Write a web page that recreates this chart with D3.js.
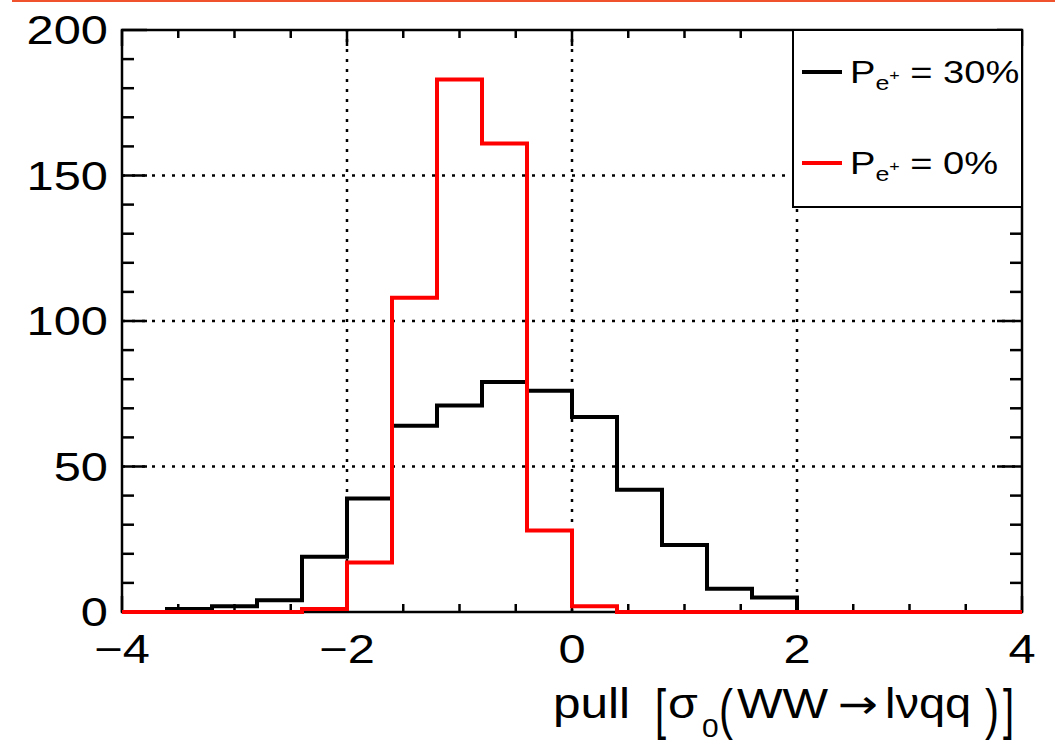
<!DOCTYPE html>
<html>
<head>
<meta charset="utf-8">
<script src="https://cdn.jsdelivr.net/npm/d3@7"></script>
<style>
  html, body { margin: 0; padding: 0; background: #fff; }
  svg { display: block; }
  text { font-family: "Liberation Sans", Arial, Helvetica, sans-serif; fill: #000; }
</style>
</head>
<body>
<svg id="chart" width="1055" height="742"></svg>
<script>
// ---- data ----
const binEdges = [-4.0, -3.6, -3.2, -2.8, -2.4, -2.0, -1.6, -1.2, -0.8, -0.4, 0.0,
                  0.4, 0.8, 1.2, 1.6, 2.0, 2.4, 2.8, 3.2, 3.6, 4.0];
const pol30 = [0, 1, 2, 4, 19, 39, 64, 71, 79, 76, 67, 42, 23, 8, 5, 0, 0, 0, 0, 0];
const pol0  = [0, 0, 0, 0, 1, 17, 108, 183, 161, 28, 2, 0, 0, 0, 0, 0, 0, 0, 0, 0];
const xTickLabels = [-4, -2, 0, 2, 4];
const yTickLabels = [0, 50, 100, 150, 200];
const seriesNames = ["30%", "0%"];

// ---- layout ----
const svg = d3.select("#chart");
const L = 122, R = 1022, T = 30, B = 612;
const SX = 1.22; // horizontal text stretch
const FS = 40;

const x = d3.scaleLinear().domain([-4, 4]).range([L, R]);
const y = d3.scaleLinear().domain([0, 200]).range([B, T]);

// top orange rule
svg.append("line").attr("x1", 12).attr("x2", 1055).attr("y1", 1).attr("y2", 1)
  .attr("stroke", "#f0522d").attr("stroke-width", 2);

// grid
const grid = svg.append("g").attr("stroke", "#000").attr("stroke-width", 2.5)
  .attr("stroke-dasharray", "3,7");
xTickLabels.filter(v => v > -4 && v < 4).forEach(v => {
  grid.append("line").attr("x1", x(v)).attr("x2", x(v)).attr("y1", B).attr("y2", T);
});
yTickLabels.filter(v => v > 0 && v < 200).forEach(v => {
  grid.append("line").attr("x1", L).attr("x2", R).attr("y1", y(v)).attr("y2", y(v));
});

function stretchedText(g, tx, ty, str, anchor, size, sx, sy) {
  return g.append("text")
    .attr("transform", `translate(${tx},${ty}) scale(${sx || SX},${sy || 1})`)
    .attr("text-anchor", anchor)
    .attr("font-size", size || FS)
    .text(str);
}

// axes (ROOT style: inward ticks, both sides)
const ax = svg.append("g");
const yMinor = d3.range(0, 201, 10);
const xMinor = d3.range(-4, 4.001, 0.5);
const tk = ax.append("g").attr("stroke", "#000").attr("stroke-width", 2.5);
yMinor.forEach(v => {
  const len = (v % 50 === 0) ? 25 : 12;
  tk.append("line").attr("x1", L).attr("x2", L + len).attr("y1", y(v)).attr("y2", y(v));
  tk.append("line").attr("x1", R).attr("x2", R - len).attr("y1", y(v)).attr("y2", y(v));
});
xMinor.forEach(v => {
  const major = Math.abs(v / 2 - Math.round(v / 2)) < 1e-6;
  const len = major ? 16 : 8;
  tk.append("line").attr("x1", x(v)).attr("x2", x(v)).attr("y1", B).attr("y2", B - len);
  tk.append("line").attr("x1", x(v)).attr("x2", x(v)).attr("y1", T).attr("y2", T + len);
});
ax.append("rect").attr("x", L).attr("y", T).attr("width", R - L).attr("height", B - T)
  .attr("fill", "none").attr("stroke", "#000").attr("stroke-width", 2.5);

// tick labels
yTickLabels.forEach(v => stretchedText(ax, L - 14, y(v) + 14, String(v), "end"));
xTickLabels.forEach(v => stretchedText(ax, x(v), 663, v < 0 ? "\u2212" + Math.abs(v) : String(v), "middle"));

// histograms
function pts(vals) {
  const p = vals.map((v, i) => [binEdges[i], v]);
  p.push([binEdges[binEdges.length - 1], vals[vals.length - 1]]);
  return p;
}
const line = d3.line().x(d => x(d[0])).y(d => y(d[1])).curve(d3.curveStepAfter);
svg.append("path").attr("d", line(pts(pol30))).attr("fill", "none")
  .attr("stroke", "#000").attr("stroke-width", 4);
svg.append("path").attr("d", line(pts(pol0))).attr("fill", "none")
  .attr("stroke", "#ff0000").attr("stroke-width", 4);

// legend
const lg = svg.append("g");
lg.append("rect").attr("x", 793).attr("y", T).attr("width", R - 793).attr("height", 177)
  .attr("fill", "#fff").attr("stroke", "#000").attr("stroke-width", 2);
const legendColors = ["#000", "#ff0000"];
seriesNames.forEach((nm, i) => {
  const cy = 72 + i * 91;
  lg.append("line").attr("x1", 802).attr("x2", 842).attr("y1", cy).attr("y2", cy)
    .attr("stroke", legendColors[i]).attr("stroke-width", 4);
  const t = lg.append("text")
    .attr("transform", `translate(850,${cy + 11}) scale(1.19,1)`)
    .attr("font-size", 32);
  t.append("tspan").text("P");
  t.append("tspan").attr("font-size", 21).attr("dy", 7).text("e");
  t.append("tspan").attr("font-size", 15).attr("dy", -10).text("+");
  t.append("tspan").attr("dy", 3).text(" = " + nm);
});

// x-axis title: pull [σ0( WW→lνqq )]
const tg = svg.append("g");
const TB = 718;
stretchedText(tg, 553, TB, "pull", "start", 42, 1.18);
stretchedText(tg, 655, TB + 10, "[", "start", 42, 0.95, 1.3);
stretchedText(tg, 668, TB, "\u03C3", "start", 42, 1.15);
stretchedText(tg, 702, TB + 19, "0", "start", 26, 1.15);
stretchedText(tg, 719, TB + 10, "(", "start", 42, 1.0, 1.3);
stretchedText(tg, 737, TB, "WW", "start", 42, 1.15);
tg.append("text").attr("transform", `translate(838,${TB}) scale(1.2,1)`)
  .attr("font-size", 40).style("font-family", "'DejaVu Sans', sans-serif").text("\u2192");
stretchedText(tg, 885, TB, "l\u03BDqq", "start", 42, 1.12);
stretchedText(tg, 985, TB + 10, ")", "start", 42, 1.0, 1.3);
stretchedText(tg, 1003, TB + 10, "]", "start", 42, 0.95, 1.3);
</script>
</body>
</html>
